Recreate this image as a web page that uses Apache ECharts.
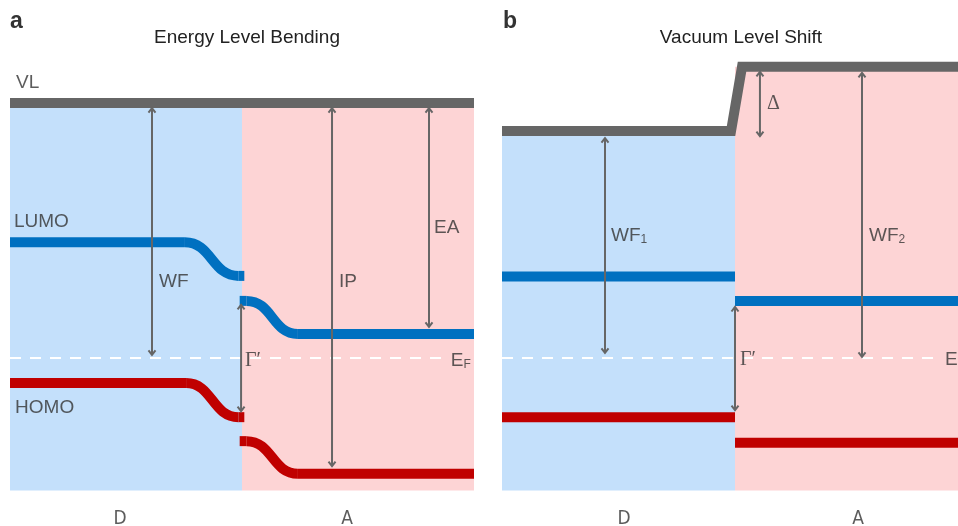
<!DOCTYPE html>
<html>
<head>
<meta charset="utf-8">
<script src="https://cdn.jsdelivr.net/npm/echarts@6/dist/echarts.min.js"></script>
<style>
  html, body { margin: 0; padding: 0; background: #fff; }
  #chart { width: 958px; height: 526px; }
</style>
</head>
<body>
<div id="chart"></div>
<script>
// energies in eV relative to E_F, position in nm (interface at 0)
// level knots: a step between two knots is drawn as a smooth S bend
// panel a : energy level bending
const vlA = [[-10, 5.0], [10, 5.0]]
const lumoDA = [[-10, 2.27], [-2.46, 2.27], [-0.15, 1.61], [0.1, 1.61]]
const lumoAA = [[-0.1, 1.12], [0.2, 1.12], [2.41, 0.47], [10, 0.47]]
const homoDA = [[-10, -0.49], [-2.41, -0.49], [-0.15, -1.16], [0.1, -1.16]]
const homoAA = [[-0.1, -1.63], [0.2, -1.63], [2.41, -2.27], [10, -2.27]]
const efA = [[-10, 0], [8.75, 0]]
// arrows: [x, from, to]
const arrowsA = [[-3.88, 4.9, 0.06], [3.88, 4.9, -2.12], [8.06, 4.9, 0.61], [-0.04, 1.04, -1.04]]
// regions: [x0, x1, top]
const regionsA = [[-10, 0, 5.0], [0, 10, 5.0]]
const textA = ['VL', 'LUMO', 'WF', 'IP', 'EA', 'HOMO', 'Γ′', 'E']
const subA = ['', '', '', '', '', '', '', 'F']
const textPosA = [[-9.74, 5.39], [-9.83, 2.67], [-3.58, 1.49], [4.18, 1.49], [8.28, 2.55], [-9.78, -0.98], [0.13, -0.06], [9.0, -0.06]]

// panel b : vacuum level shift
const vlB = [[-10, 4.45], [-0.17, 4.45], [0.3, 5.71], [10, 5.71]]
const lumoDB = [[-10, 1.6], [0, 1.6]]
const lumoAB = [[0, 1.12], [10, 1.12]]
const homoDB = [[-10, -1.16], [0, -1.16]]
const homoAB = [[0, -1.66], [10, -1.66]]
const efB = [[-10, 0], [8.8, 0]]
const arrowsB = [[-5.58, 4.31, 0.1], [5.45, 5.59, 0.02], [1.07, 5.61, 4.35], [0, 1.0, -1.02]]
const regionsB = [[-10, 0, 4.45], [0, 10, 5.71]]
const textB = ['WF', 'WF', 'Δ', 'Γ′', 'E']
const subB = ['1', '2', '', '', '']
const textPosB = [[-5.32, 2.39], [5.75, 2.39], [1.37, 4.98], [0.21, -0.04], [9.01, -0.04]]

const sides = ['D', 'A']
const sidePosA = [[-5.26, -3.16], [4.53, -3.16]]
const sidePosB = [[-4.76, -3.16], [5.28, -3.16]]

const yMin = -2.6
const yMax = 6
const grey = '#666666'
const blue = '#0070c0'
const red = '#c00000'
const bgColors = ['#c4e0fb', '#fdd4d5']
const sans = 'Liberation Sans, Arial, sans-serif'
const serif = 'Liberation Serif, Times New Roman, serif'

// smooth energy level: flat between equal knots, S bend between different ones
function bentLevel (data, color, gi) {
  return {
    type: 'custom', xAxisIndex: gi, yAxisIndex: gi, data: data, silent: true, z: 3,
    renderItem: function (params, api) {
      const i = params.dataIndex
      if (i === 0) return
      const p0 = api.coord(data[i - 1])
      const p1 = api.coord(data[i])
      const st = { stroke: color, lineWidth: 10, fill: null, lineCap: 'butt' }
      if (data[i - 1][1] === data[i][1]) {
        return { type: 'line', shape: { x1: p0[0], y1: p0[1], x2: p1[0], y2: p1[1] }, style: st }
      }
      const mx = (p0[0] + p1[0]) / 2
      return {
        type: 'bezierCurve',
        shape: { x1: p0[0], y1: p0[1], cpx1: mx, cpy1: p0[1], cpx2: mx, cpy2: p1[1], x2: p1[0], y2: p1[1] },
        style: st,
      }
    },
  }
}

function level (data, color, gi) {
  return {
    type: 'line', xAxisIndex: gi, yAxisIndex: gi, data: data,
    symbol: 'none', clip: false, silent: true, z: 3,
    lineStyle: { color: color, width: 10, cap: 'butt', join: 'miter' },
  }
}

function regions (data, gi) {
  return {
    type: 'custom', xAxisIndex: gi, yAxisIndex: gi, data: data, silent: true, z: 1,
    renderItem: function (params, api) {
      const p0 = api.coord([api.value(0), api.value(2)])
      const p1 = api.coord([api.value(1), yMin])
      return {
        type: 'rect',
        shape: { x: p0[0], y: p0[1], width: p1[0] - p0[0], height: p1[1] - p0[1] },
        style: { fill: bgColors[params.dataIndex] },
      }
    },
  }
}

function arrows (data, gi) {
  return {
    type: 'custom', xAxisIndex: gi, yAxisIndex: gi, data: data, silent: true, z: 4,
    renderItem: function (params, api) {
      const x = api.value(0)
      const a = api.coord([x, api.value(1)])
      const b = api.coord([x, api.value(2)])
      const dir = b[1] > a[1] ? 1 : -1
      const hw = 3.5
      const hh = 4.5
      const st = { stroke: grey, lineWidth: 2, fill: null }
      return {
        type: 'group',
        children: [
          { type: 'line', shape: { x1: a[0], y1: a[1], x2: b[0], y2: b[1] }, style: st },
          { type: 'polyline', shape: { points: [[a[0] - hw, a[1] + dir * hh], [a[0], a[1]], [a[0] + hw, a[1] + dir * hh]] }, style: st },
          { type: 'polyline', shape: { points: [[b[0] - hw, b[1] - dir * hh], [b[0], b[1]], [b[0] + hw, b[1] - dir * hh]] }, style: st },
        ],
      }
    },
  }
}

function fermi (data, gi) {
  return {
    type: 'line', xAxisIndex: gi, yAxisIndex: gi, data: data, symbol: 'none',
    silent: true, clip: false, z: 2,
    lineStyle: { color: '#ffffff', width: 2, type: [11, 9] },
  }
}

function texts (names, subs, pos, gi) {
  return {
    type: 'scatter', xAxisIndex: gi, yAxisIndex: gi, symbolSize: 0, silent: true, clip: false, z: 5,
    data: names.map(function (n, i) {
      const isSerif = n === 'Γ′' || n === 'Δ'
      return {
        value: pos[i], name: n,
        label: {
          formatter: subs[i] ? '{m|' + n + '}{s|' + subs[i] + '}' : '{m|' + n + '}',
          rich: {
            m: { fontSize: isSerif ? 20 : 19, fontFamily: isSerif ? serif : sans, color: '#333' },
            s: { fontSize: 12, fontFamily: sans, color: '#333', verticalAlign: 'bottom' },
          },
        },
      }
    }),
    label: { show: true, position: 'right', distance: 0 },
  }
}

function sideLabels (pos, gi) {
  return {
    type: 'scatter', xAxisIndex: gi, yAxisIndex: gi, symbolSize: 0, silent: true, clip: false, z: 5,
    data: sides.map(function (n, i) { return { value: pos[i], name: n } }),
    label: {
      show: true, position: 'inside', formatter: '{b}',
      fontSize: 19, fontFamily: 'Liberation Sans Narrow, DejaVu Sans Condensed, sans-serif', color: '#333',
    },
  }
}

const option = {
  animation: false,
  title: [
    { text: 'a', left: 5, top: 5, textStyle: { fontSize: 23, fontWeight: 'bold', color: '#333', fontFamily: sans } },
    { text: 'Energy Level Bending', left: 242, top: 23, textAlign: 'center', textStyle: { fontSize: 19, fontWeight: 'normal', color: '#222', fontFamily: sans } },
    { text: 'b', left: 498, top: 5, textStyle: { fontSize: 23, fontWeight: 'bold', color: '#333', fontFamily: sans } },
    { text: 'Vacuum Level Shift', left: 736, top: 23, textAlign: 'center', textStyle: { fontSize: 19, fontWeight: 'normal', color: '#222', fontFamily: sans } },
  ],
  grid: [
    { left: 10, top: 52, width: 464, height: 438.6 },
    { left: 502, top: 52, width: 456, height: 438.6 },
  ],
  xAxis: [
    { gridIndex: 0, type: 'value', min: -10, max: 10, show: false },
    { gridIndex: 1, type: 'value', min: -10, max: 9.57, show: false },
  ],
  yAxis: [
    { gridIndex: 0, type: 'value', min: yMin, max: yMax, show: false },
    { gridIndex: 1, type: 'value', min: yMin, max: yMax, show: false },
  ],
  series: [
    regions(regionsA, 0),
    fermi(efA, 0),
    level(vlA, grey, 0),
    bentLevel(lumoDA, blue, 0),
    bentLevel(lumoAA, blue, 0),
    bentLevel(homoDA, red, 0),
    bentLevel(homoAA, red, 0),
    arrows(arrowsA, 0),
    texts(textA, subA, textPosA, 0),
    sideLabels(sidePosA, 0),

    regions(regionsB, 1),
    fermi(efB, 1),
    level(vlB, grey, 1),
    level(lumoDB, blue, 1),
    level(lumoAB, blue, 1),
    level(homoDB, red, 1),
    level(homoAB, red, 1),
    arrows(arrowsB, 1),
    texts(textB, subB, textPosB, 1),
    sideLabels(sidePosB, 1),
  ],
}

const myChart = echarts.init(document.getElementById('chart'))
myChart.setOption(option)
</script>
</body>
</html>
